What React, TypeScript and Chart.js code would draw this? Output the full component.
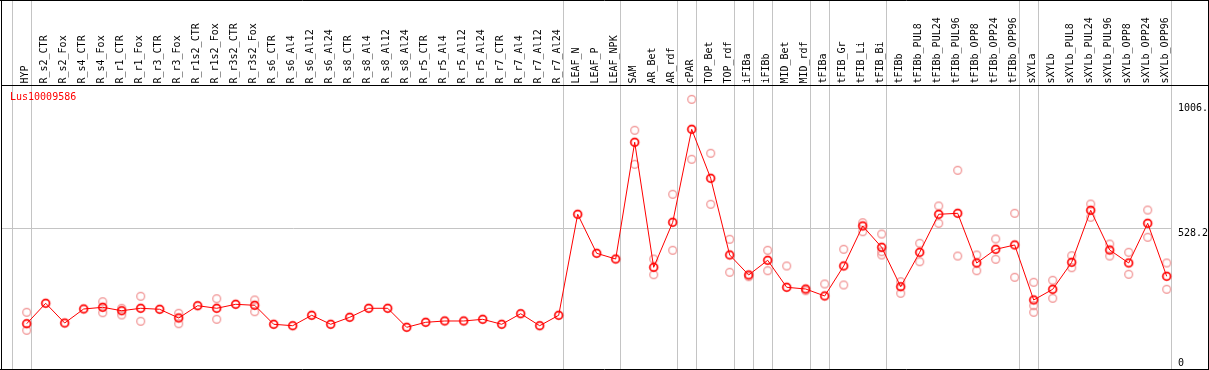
import { useEffect, useRef } from "react";
import { Chart, registerables } from "chart.js";

Chart.register(...registerables);

const chartTitle = "Lus10009586";

const categories = [
  "HYP", "R_s2_CTR", "R_s2_Fox", "R_s4_CTR", "R_s4_Fox", "R_r1_CTR", "R_r1_Fox", "R_r3_CTR", "R_r3_Fox",
  "R_r1s2_CTR", "R_r1s2_Fox", "R_r3s2_CTR", "R_r3s2_Fox", "R_s6_CTR", "R_s6_Al4", "R_s6_Al12", "R_s6_Al24",
  "R_s8_CTR", "R_s8_Al4", "R_s8_Al12", "R_s8_Al24", "R_r5_CTR", "R_r5_Al4", "R_r5_Al12", "R_r5_Al24",
  "R_r7_CTR", "R_r7_Al4", "R_r7_Al12", "R_r7_Al24", "LEAF_N", "LEAF_P", "LEAF_NPK", "SAM", "AR_Bet", "AR_rdf",
  "cPAR", "TOP_Bet", "TOP_rdf", "iFIBa", "iFIBb", "MID_Bet", "MID_rdf", "tFIBa", "tFIB_Gr", "tFIB_Li", "tFIB_Bi",
  "tFIBb", "tFIBb_PUL8", "tFIBb_PUL24", "tFIBb_PUL96", "tFIBb_OPP8", "tFIBb_OPP24", "tFIBb_OPP96",
  "sXYLa", "sXYLb", "sXYLb_PUL8", "sXYLb_PUL24", "sXYLb_PUL96", "sXYLb_OPP8", "sXYLb_OPP24", "sXYLb_OPP96",
];

const meanValues = [
  169.1, 245.3, 171.7, 224.0, 230.3, 217.6, 226.6, 222.9, 190.4,
  236.3, 226.6, 241.5, 237.8, 166.9, 161.6, 200.5, 166.9,
  193.0, 226.6, 226.6, 155.7, 174.3, 179.2, 179.2, 185.5,
  166.9, 206.4, 161.6, 200.5, 577.5, 431.9, 410.6, 846.3, 379.6, 547.6,
  894.8, 711.9, 425.6, 350.9, 405.8, 305.0, 298.6, 272.5, 384.5, 533.8, 454.3,
  307.2, 435.6, 577.5, 581.2, 395.7, 446.8, 462.9,
  257.6, 297.5, 398.3, 592.4, 444.2, 395.7, 543.9, 346.0,
];

const rep1 = [
  211.7, null, null, null, 251.2, 226.6, 271.4, null, 207.9,
  null, 262.4, null, 257.6, null, null, null, null,
  null, null, null, null, null, null, null, null,
  null, null, null, null, null, null, null, 891.0, 410.6, 652.1,
  1006.5, 805.2, 484.2, 344.5, 443.1, 384.5, 292.3, 317.3, 446.8, 546.1, 503.9,
  325.9, 469.2, 608.5, 741.7, 425.6, 485.3, 581.2,
  323.6, 331.1, 422.9, 615.9, 466.6, 435.6, 593.5, 395.7,
];

const rep2 = [
  144.5, null, null, null, 210.2, 201.6, 178.1, null, 169.1,
  null, 185.5, null, 213.9, null, null, null, null,
  null, null, null, null, null, null, null, null,
  null, null, null, null, null, null, null, 764.1, 352.0, 443.1,
  782.8, 614.8, 361.0, null, 366.9, null, null, null, 313.6, 512.5, 425.6,
  282.6, 400.5, 543.9, 421.8, 366.9, 409.5, 342.3,
  211.7, 263.9, 378.1, 566.3, 421.8, 353.5, 491.6, 297.5,
];

const rep3 = [
  null, null, null, null, null, null, null, null, null,
  null, null, null, null, null, null, null, null,
  null, null, null, null, null, null, null, null,
  null, null, null, null, null, null, null, null, null, null,
  null, null, null, null, null, null, null, null, null, null, 437.9,
  null, null, null, null, null, null, null,
  236.3, null, null, null, null, null, null, null,
];

const groupEnds = [-1, 0, 28, 31, 34, 35, 37, 38, 39, 41, 42, 45, 52, 53, 60];
const yTickValues = [1006.5, 528.2, 0];
const yTickLabels = ["1006.", "528.2", "0"];
const yGridValues = [528.2];
const yMax = 1056.4;

const FONT = "10px 'DejaVu Sans Mono', monospace";

function makeMarker(color: string, lw: number, r: number) {
  const c = document.createElement("canvas");
  c.width = 13;
  c.height = 13;
  const ctx = c.getContext("2d")!;
  ctx.strokeStyle = color;
  ctx.lineWidth = lw;
  ctx.beginPath();
  ctx.arc(6.5, 6.5, r, 0, Math.PI * 2);
  ctx.stroke();
  return c;
}

export default function App() {
  const ref = useRef<HTMLCanvasElement>(null);

  useEffect(() => {
    const canvas = ref.current;
    if (!canvas) return;

    const repPoints: { x: number; y: number }[] = [];
    [rep1, rep2, rep3].forEach((arr) =>
      arr.forEach((v, i) => {
        if (v !== null) repPoints.push({ x: i, y: v as number });
      })
    );
    const meanPoints = meanValues.map((v, i) => ({ x: i, y: v }));

    const mainMarker = makeMarker("#ff0000", 1.7, 3.9);
    const repMarker = makeMarker("#f09090", 1.2, 3.9);

    const pxPerCat = 19;
    const firstX = 26.7;
    const left = 1;
    const right = 1208;
    const xMin = (left - firstX) / pxPerCat;
    const xMax = (right - firstX) / pxPerCat;

    const decor = {
      id: "decor",
      beforeDraw(chart: any) {
        const ctx = chart.ctx;
        ctx.save();
        ctx.fillStyle = "#ffffff";
        ctx.fillRect(0, 0, chart.width, chart.height);
        ctx.restore();
      },
      beforeDatasetsDraw(chart: any) {
        const ctx = chart.ctx;
        const xs = chart.scales.x;
        const ys = chart.scales.y;
        ctx.save();
        ctx.strokeStyle = "#c4c4c4";
        ctx.lineWidth = 1;
        groupEnds.forEach((g) => {
          const x = Math.round(xs.getPixelForValue(g) + 4) + 0.5;
          ctx.beginPath();
          ctx.moveTo(x, 0);
          ctx.lineTo(x, 369);
          ctx.stroke();
        });
        const xEnd = Math.round(xs.getPixelForValue(60) + 4) + 0.5;
        yGridValues.forEach((v) => {
          const y = Math.round(ys.getPixelForValue(v)) + 0.5;
          ctx.beginPath();
          ctx.moveTo(1, y);
          ctx.lineTo(xEnd, y);
          ctx.stroke();
        });
        ctx.restore();
      },
      afterDraw(chart: any) {
        const ctx = chart.ctx;
        const xs = chart.scales.x;
        const ys = chart.scales.y;
        ctx.save();
        // frame
        ctx.strokeStyle = "#000000";
        ctx.lineWidth = 1;
        ctx.beginPath();
        ctx.moveTo(0, 0.5);
        ctx.lineTo(1209, 0.5);
        ctx.moveTo(1.5, 0);
        ctx.lineTo(1.5, 370);
        ctx.moveTo(1208.5, 0);
        ctx.lineTo(1208.5, 370);
        ctx.moveTo(0, 369.5);
        ctx.lineTo(1209, 369.5);
        ctx.moveTo(1, 85.5);
        ctx.lineTo(1209, 85.5);
        ctx.stroke();

        // category labels
        ctx.font = FONT;
        ctx.fillStyle = "#000000";
        ctx.textAlign = "left";
        ctx.textBaseline = "middle";
        categories.forEach((c, i) => {
          const x = xs.getPixelForValue(i) - 1;
          ctx.save();
          ctx.translate(x, 83.5);
          ctx.rotate(-Math.PI / 2);
          ctx.fillText(c, 0, 0);
          ctx.restore();
        });

        // title
        ctx.fillStyle = "#ff0000";
        ctx.textBaseline = "top";
        ctx.fillText(chartTitle, 10, 92);

        // right value labels
        ctx.fillStyle = "#000000";
        yTickValues.forEach((v, k) => {
          const y = ys.getPixelForValue(v);
          if (k === yTickValues.length - 1) {
            ctx.textBaseline = "alphabetic";
            ctx.fillText(yTickLabels[k], 1178, y - 3.5);
          } else if (k === 0) {
            ctx.textBaseline = "top";
            ctx.fillText(yTickLabels[k], 1178, y + 4);
          } else {
            ctx.textBaseline = "top";
            ctx.fillText(yTickLabels[k], 1178, y + 0.5);
          }
        });
        ctx.restore();
      },
    };

    const chart = new Chart(canvas, {
      type: "line",
      data: {
        datasets: [
          {
            data: meanPoints,
            borderColor: "#ff0000",
            borderWidth: 1,
            pointStyle: mainMarker as any,
            pointRadius: 4,
            tension: 0,
            clip: false as any,
            order: 0,
          },
          {
            data: repPoints,
            showLine: false,
            pointStyle: repMarker as any,
            pointRadius: 4,
            clip: false as any,
            order: 1,
          },
        ],
      },
      options: {
        animation: false,
        responsive: false,
        devicePixelRatio: 1,
        layout: { autoPadding: false, padding: { left: 1, right: 1, top: 86, bottom: 1 } },
        scales: {
          x: { type: "linear", min: xMin, max: xMax, display: false },
          y: { type: "linear", min: 0, max: yMax, display: false },
        },
        plugins: {
          legend: { display: false },
          tooltip: { enabled: false },
        },
      },
      plugins: [decor],
    });

    return () => chart.destroy();
  }, []);

  return (
    <div style={{ position: "fixed", left: 0, top: 0, width: 1209, height: 370, background: "#fff" }}>
      <canvas ref={ref} width={1209} height={370} style={{ width: 1209, height: 370, display: "block" }} />
    </div>
  );
}
